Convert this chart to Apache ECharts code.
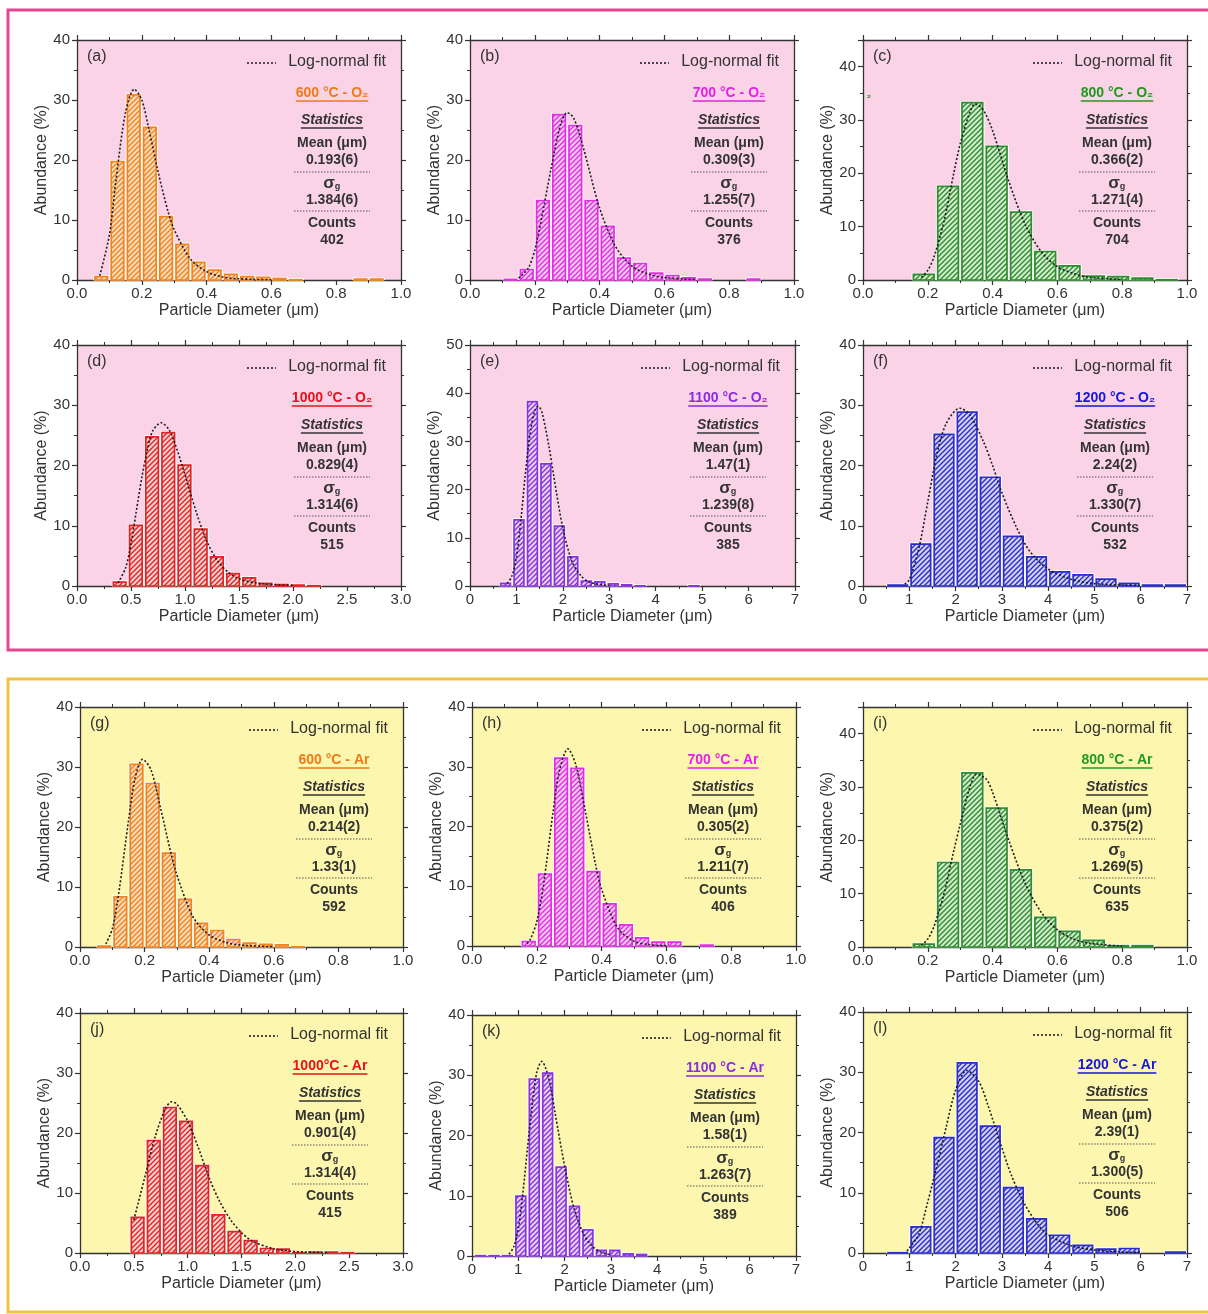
<!DOCTYPE html>
<html><head><meta charset="utf-8">
<script src="https://cdn.jsdelivr.net/npm/echarts@6/dist/echarts.min.js"></script>
<style>html,body{margin:0;padding:0;background:#fff}#c{width:1208px;height:1314px}</style>
</head><body><div id="c"></div>
<script>
// ================= DATA =================
const panelLabels = ['(a)','(b)','(c)','(d)','(e)','(f)','(g)','(h)','(i)','(j)','(k)','(l)'];
const conditions = ['600 °C - O₂','700 °C - O₂','800 °C - O₂','1000 °C - O₂','1100 °C - O₂','1200 °C - O₂',
                    '600 °C - Ar','700 °C - Ar','800 °C - Ar','1000°C - Ar','1100 °C - Ar','1200 °C - Ar'];
const meanValues  = ['0.193(6)','0.309(3)','0.366(2)','0.829(4)','1.47(1)','2.24(2)','0.214(2)','0.305(2)','0.375(2)','0.901(4)','1.58(1)','2.39(1)'];
const sigmaValues = ['1.384(6)','1.255(7)','1.271(4)','1.314(6)','1.239(8)','1.330(7)','1.33(1)','1.211(7)','1.269(5)','1.314(4)','1.263(7)','1.300(5)'];
const countValues = ['402','376','704','515','385','532','592','406','635','415','389','506'];

// axis ranges
const xMax = [1,1,1,3,7,7,1,1,1,3,7,7];
const xInterval = [0.2,0.2,0.2,0.5,1,1,0.2,0.2,0.2,0.5,1,1];
const xDecimals = [1,1,1,1,0,0,1,1,1,1,0,0];
const yMax = [40,40,45,40,50,40,40,40,45,40,40,40];
const yTickLabels = [0,10,20,30,40,50];

// histogram bins: first bin left edge and bin width
const binStart = [0.05,0.10,0.15,0.32,0.62,0.5,0.05,0.15,0.15,0.46,0.04,0.5];
const binWidth = [0.05,0.05,0.075,0.15,0.29,0.5,0.05,0.05,0.075,0.15,0.29,0.5];

// abundance (%) per bin
const abundA = [0.6,19.8,30.9,25.5,10.6,6.0,3.0,1.7,1.0,0.6,0.5,0.3,0.1,0,0,0,0.2,0.2];
const abundB = [0.15,1.8,13.3,27.6,25.8,13.3,9.0,3.7,2.8,1.2,0.8,0.4,0.2,0,0,0.2];
const abundC = [1.1,17.6,33.3,25.1,12.8,5.4,2.7,0.8,0.7,0.4,0.1];
const abundD = [0.7,10.1,24.8,25.5,20.1,9.5,4.9,2.1,1.4,0.5,0.3,0.2,0.1];
const abundE = [0.6,13.8,38.3,25.4,12.5,6.1,1.1,0.9,0.5,0.3,0.1,0,0,0,0.1];
const abundF = [0.2,7.0,25.2,28.9,18.1,8.3,4.9,2.4,1.9,1.2,0.5,0.2,0.2];
const abundG = [0.2,8.4,30.5,27.3,15.7,8.0,4.0,2.8,1.3,0.7,0.5,0.4,0.1];
const abundH = [0.8,12.1,31.5,29.8,12.5,7.1,3.6,1.4,0.7,0.7,0,0.2];
const abundI = [0.6,15.9,32.7,26.1,14.5,5.6,3.0,1.3,0.3,0.3];
const abundJ = [6.0,18.8,24.3,22.0,14.6,6.4,3.6,2.1,0.8,0.7,0.1,0.2,0.2,0.1];
const abundK = [0.1,0.1,0.1,10.0,29.4,30.4,14.8,8.3,4.4,1.0,1.0,0.4,0.3];
const abundL = [0.1,4.4,19.2,31.6,21.1,10.9,5.7,3.0,1.3,0.7,0.8,0,0.2];

// log-normal fit curves
const fitXA = [0.07,0.10,0.12,0.15,0.177,0.20,0.22,0.25,0.28,0.30,0.35,0.40,0.45,0.50,0.60];
const fitYA = [0.7,7.5,16.5,28,31.8,30,25.6,18.1,11.6,8.4,3.5,1.4,0.5,0.2,0.03];
const fitXB = [0.15,0.18,0.20,0.22,0.25,0.28,0.30,0.32,0.35,0.40,0.45,0.50,0.55,0.60,0.70];
const fitYB = [0.3,2,5,10,18.5,26,27.9,27,22,12,5.5,2.3,1,0.4,0.05];
const fitXC = [0.18,0.20,0.22,0.25,0.28,0.30,0.33,0.345,0.37,0.40,0.45,0.50,0.55,0.60,0.65,0.70,0.80];
const fitYC = [0.5,1.8,4.5,11,20,25.5,31.5,33,32,28,18.5,10.5,5.3,2.5,1.2,0.5,0.1];
const fitXD = [0.38,0.45,0.50,0.55,0.60,0.65,0.70,0.78,0.85,0.90,1.0,1.1,1.2,1.3,1.4,1.5,1.7,2.0];
const fitYD = [0.5,3,7,12.5,18,22.5,25.7,27.1,26,24,18.5,12.5,7.5,4.2,2.3,1.2,0.4,0.1];
const fitXE = [0.8,0.9,1.0,1.1,1.2,1.3,1.4,1.47,1.55,1.7,1.8,2.0,2.2,2.4,2.6,3.0];
const fitYE = [0.5,2,6,14,24,32,36.5,37.3,36,29,23,12,5,2,0.7,0.1];
const fitXF = [0.9,1.0,1.2,1.4,1.6,1.8,2.09,2.3,2.6,2.8,3.0,3.3,3.6,4.0,4.5,5.0,6.0];
const fitYF = [0.3,1,6,14,22,27,29.5,28.5,24,20,15.5,10,5.8,2.8,1.1,0.4,0.05];
const fitXG = [0.08,0.10,0.12,0.15,0.17,0.194,0.22,0.25,0.28,0.30,0.35,0.40,0.45,0.50,0.60];
const fitYG = [0.5,3,9,21,28,31.3,29.5,23,16,12,5,2,0.8,0.3,0.05];
const fitXH = [0.17,0.18,0.20,0.22,0.25,0.27,0.296,0.32,0.35,0.38,0.40,0.45,0.50,0.55,0.60];
const fitYH = [0.4,1.1,4.1,10,22.4,29.4,33,30.4,22.5,14,9.5,3.0,0.8,0.2,0.05];
const fitXI = [0.18,0.20,0.22,0.25,0.28,0.30,0.33,0.35,0.38,0.40,0.45,0.50,0.55,0.60,0.65,0.70,0.80];
const fitYI = [0.3,1.5,4,10,18,23,30,32.4,31.5,29,20,12,6.5,3.2,1.5,0.7,0.15];
const fitXJ = [0.5,0.6,0.7,0.8,0.853,0.9,1.0,1.1,1.2,1.3,1.4,1.5,1.6,1.8,2.0,2.3];
const fitYJ = [5.5,12.5,19.5,24.3,25.2,24.8,22,17.5,12.5,8.5,5.5,3.4,2.0,0.7,0.25,0.05];
const fitXK = [0.8,0.9,1.0,1.1,1.2,1.3,1.4,1.51,1.6,1.7,1.8,2.0,2.2,2.4,2.6,2.8,3.0];
const fitYK = [0.3,1.5,4.5,10.5,18,25,30.5,32.3,31,28,23.5,15,8,3.8,1.6,0.6,0.2];
const fitXL = [0.95,1.0,1.2,1.4,1.5,1.6,1.8,2.0,2.24,2.5,2.7,3.0,3.2,3.5,3.8,4.0,4.5,5.0,5.5,6.0];
const fitYL = [0.3,0.8,3,8.5,11.5,14.5,21,27,30.3,28.5,24.5,17.5,13,8,4.5,3,1.2,0.5,0.2,0.08];

const abundances = [abundA,abundB,abundC,abundD,abundE,abundF,abundG,abundH,abundI,abundJ,abundK,abundL];
const fitXs = [fitXA,fitXB,fitXC,fitXD,fitXE,fitXF,fitXG,fitXH,fitXI,fitXJ,fitXK,fitXL];
const fitYs = [fitYA,fitYB,fitYC,fitYD,fitYE,fitYF,fitYG,fitYH,fitYI,fitYJ,fitYK,fitYL];

// ================= LAYOUT / STYLE =================
const gridBoxes = [[77,40,324,240],[470,40,324,240],[863,40,324,240],
                   [77,345,324,241],[470,345,325,241],[863,345,324,241],
                   [80,707,323,240],[472,707,324,239],[863,707,324,240],
                   [80,1013,323,240],[472,1015,324,241],[863,1012,324,241]];
const statDx = [-69,-65,-70,-69,-67,-72,-69,-73,-70,-73,-71,-70];
const tempIdx = [0,1,2,3,4,5,0,1,2,3,4,5];
const barColors  = ['#ef8420','#e22ee2','#2f8c2f','#e02424','#8a32dc','#2c2cc8'];
const barPale    = ['#fddcbc','#f8caf8','#d2ebcd','#fbd0d0','#e4d2fa','#d2d2f6'];
const titleColors= ['#f07a14','#e81ee8','#1f9a1f','#e8101a','#8a2be2','#1515e0'];
const bgPink = '#fad3e7', bgYellow = '#fdf6ae';
const FF = '"Liberation Sans", Arial, Helvetica, sans-serif';
const TXT = '#333';

const mctx = document.createElement('canvas').getContext('2d');
function textW(t, font){ mctx.font = font; return mctx.measureText(t).width; }

function hatch(color, pale){
  const s = 5, c = document.createElement('canvas'); c.width = s; c.height = s;
  const g = c.getContext('2d');
  g.fillStyle = pale; g.fillRect(0,0,s,s);
  g.strokeStyle = color; g.lineWidth = 1.4; g.lineCap='square';
  g.beginPath();
  g.moveTo(0,s); g.lineTo(s,0);
  g.moveTo(-s,s); g.lineTo(s,-s);
  g.moveTo(0,2*s); g.lineTo(2*s,0);
  g.stroke();
  return c;
}

const chart = echarts.init(document.getElementById('c'), null, {renderer:'canvas'});
const option = {animation:false, backgroundColor:'#fff', grid:[], xAxis:[], yAxis:[], series:[], graphic:{elements:[]}};
const G = option.graphic.elements;

// outer frames
G.push({type:'rect', z:0, shape:{x:8,y:10,width:1215,height:640}, style:{fill:'none', stroke:'#e6468e', lineWidth:3}});
G.push({type:'rect', z:0, shape:{x:8,y:679,width:1215,height:633}, style:{fill:'none', stroke:'#f1c43e', lineWidth:3}});

function axisBase(i){
  return {
    gridIndex:i, type:'value',
    axisLine:{show:true, onZero:false, lineStyle:{color:TXT, width:1.3}},
    axisTick:{show:true, inside:false, length:5, lineStyle:{color:TXT, width:1.2}},
    minorTick:{show:true, splitNumber:2, length:3, lineStyle:{color:TXT, width:1}},
    splitLine:{show:false}, minorSplitLine:{show:false}
  };
}

abundances.forEach((ab, i) => {
  const [L,T,Wd,H] = gridBoxes[i];
  const R = L + Wd;
  const ti = tempIdx[i];
  const col = barColors[ti];
  const pat = {image: hatch(col, barPale[ti]), repeat:'repeat'};
  option.grid.push({left:L, top:T, width:Wd, height:H, show:true, backgroundColor: i<6?bgPink:bgYellow, borderWidth:0});

  const xb = Object.assign(axisBase(i), {position:'bottom', min:0, max:xMax[i], interval:xInterval[i],
    axisLabel:{show:true, margin:6, fontSize:15, color:TXT, fontFamily:FF, formatter:(v)=>v.toFixed(xDecimals[i])},
    name:'Particle Diameter (μm)', nameLocation:'middle', nameGap:23,
    nameTextStyle:{fontSize:16, color:TXT, fontFamily:FF}});
  const xt = Object.assign(axisBase(i), {position:'top', min:0, max:xMax[i], interval:xInterval[i], axisLabel:{show:false}});
  const yl = Object.assign(axisBase(i), {position:'left', min:0, max:yMax[i], interval:10,
    axisLabel:{show:true, margin:7, fontSize:15, color:TXT, fontFamily:FF,
      formatter:(v)=> yTickLabels.indexOf(v) >= 0 ? String(v) : ''},
    name:'Abundance (%)', nameLocation:'middle', nameGap:24,
    nameTextStyle:{fontSize:16, color:TXT, fontFamily:FF}});
  const yr = Object.assign(axisBase(i), {position:'right', min:0, max:yMax[i], interval:10, axisLabel:{show:false}});
  option.xAxis.push(xb, xt);
  option.yAxis.push(yl, yr);

  const bars = ab.map((h,k) => [binStart[i] + k*binWidth[i], binStart[i] + (k+1)*binWidth[i], h]);
  option.series.push({
    type:'custom', xAxisIndex:2*i, yAxisIndex:2*i, data:bars, encode:{x:[0,1], y:2}, z:3, silent:true,
    renderItem:(params, api) => {
      const h = api.value(2);
      if (!(h > 0)) return null;
      const p0 = api.coord([api.value(0), h]);
      const p1 = api.coord([api.value(1), 0]);
      const x = p0[0] + 1, w = p1[0] - p0[0] - 2, y = p0[1], hh = p1[1] - p0[1];
      return {type:'group', children:[
        {type:'rect', shape:{x:x-0.5, y:y-0.8, width:w+1, height:hh+0.8}, style:{fill:'#ffffff', stroke:'#ffffff', lineWidth:1}},
        {type:'rect', shape:{x:x+0.8, y:y+0.3, width:Math.max(w-1.6,0.5), height:Math.max(hh-0.3,0.3)},
         style:{fill:pat, stroke:col, lineWidth:1.7}}
      ]};
    }
  });
  option.series.push({
    type:'line', xAxisIndex:2*i, yAxisIndex:2*i, silent:true, z:5,
    data: fitXs[i].map((x,k)=>[x, fitYs[i][k]]),
    showSymbol:false, symbol:'none', smooth:0.3,
    lineStyle:{color:'#1e1e1e', width:1.6, type:[2,2]}
  });

  // panel label
  G.push({type:'text', z:20, x:L+10, y:T+17, style:{text:panelLabels[i], font:'16px '+FF, fill:TXT,
    textAlign:'left', textVerticalAlign:'middle', align:'left', verticalAlign:'middle'}});
  // legend
  G.push({type:'line', z:20, shape:{x1:R-154, y1:T+23, x2:R-125, y2:T+23}, style:{stroke:'#1e1e1e', lineWidth:1.6, lineDash:[2,2]}});
  G.push({type:'text', z:20, x:R-15, y:T+22, style:{text:'Log-normal fit', font:'16px '+FF, fill:TXT,
    textAlign:'right', textVerticalAlign:'middle', align:'right', verticalAlign:'middle'}});

  const cx = R + statDx[i];
  const center = (txt, y, font, fill) => G.push({type:'text', z:20, x:cx, y:T+y,
    style:{text:txt, font:font, fill:fill||TXT, textAlign:'center', textVerticalAlign:'middle', align:'center', verticalAlign:'middle'}});
  const uline = (txt, y, font, stroke) => {
    const w = textW(txt, font);
    G.push({type:'line', z:20, shape:{x1:cx-w/2, y1:T+y, x2:cx+w/2, y2:T+y}, style:{stroke:stroke, lineWidth:1.4}});
  };
  const tFont = 'bold 14px '+FF;
  center(conditions[i], 53, tFont, titleColors[ti]);
  uline(conditions[i], 61, tFont, titleColors[ti]);
  const sFont = 'italic bold 14px '+FF;
  center('Statistics', 80, sFont, TXT);
  uline('Statistics', 88, sFont, TXT);
  const bFont = 'bold 14px '+FF;
  center('Mean (μm)', 103, bFont);
  center(meanValues[i], 120, bFont);
  G.push({type:'line', z:20, shape:{x1:cx-38, y1:T+132, x2:cx+38, y2:T+132}, style:{stroke:'#555', lineWidth:1.2, lineDash:[1.5,1.5]}});
  G.push({type:'text', z:20, x:cx-3, y:T+143, style:{text:'σ', font:'bold 17px '+FF, fill:TXT, textAlign:'center', textVerticalAlign:'middle', align:'center', verticalAlign:'middle'}});
  G.push({type:'text', z:20, x:cx+5.5, y:T+147, style:{text:'g', font:'bold 9px '+FF, fill:TXT, textAlign:'center', textVerticalAlign:'middle', align:'center', verticalAlign:'middle'}});
  center(sigmaValues[i], 160, bFont);
  G.push({type:'line', z:20, shape:{x1:cx-38, y1:T+171, x2:cx+38, y2:T+171}, style:{stroke:'#555', lineWidth:1.2, lineDash:[1.5,1.5]}});
  center('Counts', 183, bFont);
  center(countValues[i], 200, bFont);
});

// small stray green mark in panel (c)
G.push({type:'text', z:20, x:869, y:95, style:{text:'₂', font:'bold 10px '+FF, fill:'#1f9a1f', textAlign:'center', textVerticalAlign:'middle', align:'center', verticalAlign:'middle'}});

chart.setOption(option);
</script>
</body></html>
